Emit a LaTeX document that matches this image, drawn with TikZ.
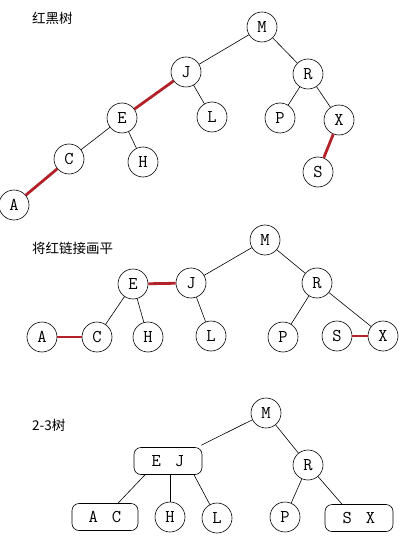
\documentclass[tikz,border=0pt]{standalone}
\usepackage{fontspec}
\usepackage{xcolor}
\usepackage{tikz}
\usetikzlibrary{positioning}
\newfontfamily\cjk{Noto Sans CJK SC}
\definecolor{linkred}{RGB}{178,34,40}
\tikzstyle{vertex} = [circle, draw, line width=0.6pt, minimum size=30pt, inner sep=0pt,
    font=\ttfamily\fontsize{18}{18}\selectfont]
\tikzstyle{threenode} = [rectangle, draw, line width=0.6pt, rounded corners=7pt, minimum width=68pt,
    minimum height=27pt, inner sep=0pt, font=\ttfamily\fontsize{18}{18}\selectfont]
\tikzstyle{title} = [anchor=west, inner sep=0pt, font=\cjk\fontsize{13.5}{13.5}\selectfont]
\tikzstyle{link} = [draw, line width=0.6pt]
\tikzstyle{redlink} = [draw, linkred, line width=2.8pt]
\newcommand{\pair}[2]{#1\hspace{14pt}#2}

\begin{document}
\begin{tikzpicture}[x=1pt, y=-1pt]
                      \useasboundingbox (0,0) rectangle (416,537);

                      % Red-black tree
                      \node [title] (t1) at (32,18) {红黑树};
                      \node [vertex] (M1) at (262,27) {M};
                      \node [vertex] (J1) at (186,72) {J};
                      \node [vertex] (R1) at (308,74) {R};
                      \node [vertex] (E1) at (122,118) {E};
                      \node [vertex] (L1) at (212,117) {L};
                      \node [vertex] (P1) at (280,118) {P};
                      \node [vertex] (X1) at (339,120) {X};
                      \node [vertex] (C1) at (69,159) {C};
                      \node [vertex] (H1) at (143,162) {H};
                      \node [vertex] (S1) at (318,172) {S};
                      \node [vertex] (A1) at (14,205) {A};

                      \draw [link] (M1) -- (J1);
                      \draw [link] (M1) -- (R1);
                      \draw [redlink] (J1) -- (E1);
                      \draw [link] (J1) -- (L1);
                      \draw [link] (E1) -- (C1);
                      \draw [link] (E1) -- (H1);
                      \draw [redlink] (C1) -- (A1);
                      \draw [link] (R1) -- (P1);
                      \draw [link] (R1) -- (X1);
                      \draw [redlink] (X1) -- (S1);

                      % Red links laid flat
                      \node [title] (t2) at (32,248) {将红链接画平};
                      \node [vertex] (M2) at (265,240) {M};
                      \node [vertex] (E2) at (133,284) {E};
                      \node [vertex] (J2) at (191,283) {J};
                      \node [vertex] (R2) at (317,283) {R};
                      \node [vertex] (A2) at (42,337) {A};
                      \node [vertex] (C2) at (97,337) {C};
                      \node [vertex] (H2) at (148,337) {H};
                      \node [vertex] (L2) at (211,336) {L};
                      \node [vertex] (P2) at (283,337) {P};
                      \node [vertex] (S2) at (337,336) {S};
                      \node [vertex] (X2) at (383,336) {X};

                      \draw [link] (M2) -- (J2);
                      \draw [link] (M2) -- (R2);
                      \draw [redlink] (E2) -- (J2);
                      \draw [link] (E2) -- (C2);
                      \draw [link] (E2) -- (H2);
                      \draw [link] (J2) -- (L2);
                      \draw [redlink] (A2) -- (C2);
                      \draw [link] (R2) -- (P2);
                      \draw [link] (R2) -- (X2);
                      \draw [redlink] (S2) -- (X2);

                      % 2-3 tree
                      \node [title] (t3) at (32,425) {2-3树};
                      \node [vertex] (M3) at (266,413) {M};
                      \node [threenode] (EJ3) at (168,461) {\pair{E}{J}};
                      \node [vertex] (R3) at (308,465) {R};
                      \node [threenode, minimum width=66pt] (AC3) at (105,517) {\pair{A}{C}};
                      \node [vertex] (H3) at (170,517) {H};
                      \node [vertex] (L3) at (217,518) {L};
                      \node [vertex] (P3) at (285,517) {P};
                      \node [threenode] (SX3) at (359,518) {\pair{S}{X}};

                      \draw [link] (M3) -- ([xshift=-1pt,yshift=2pt]EJ3.north east);
                      \draw [link] (M3) -- (R3);
                      \draw [link] ([xshift=-23pt]EJ3.south) -- ([xshift=13pt]AC3.north);
                      \draw [link] ([xshift=2pt]EJ3.south) -- (H3);
                      \draw [link] ([xshift=26pt]EJ3.south) -- (L3);
                      \draw [link] (R3) -- (P3);
                      \draw [link] (R3) -- ([xshift=-17pt]SX3.north);

\end{tikzpicture}
\end{document}
